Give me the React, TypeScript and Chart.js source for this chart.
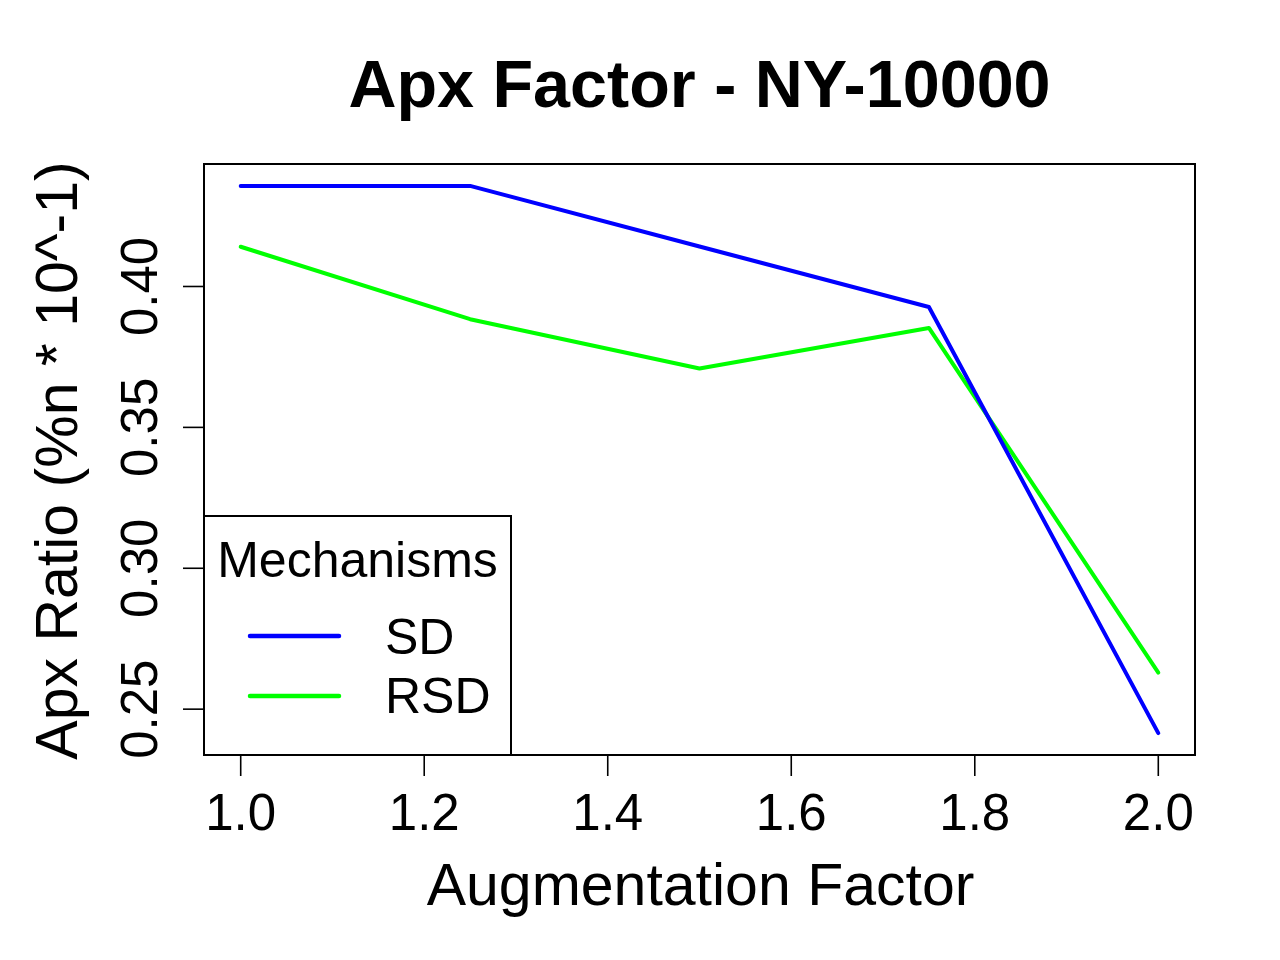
import React, { useEffect, useRef } from "react";
import { Chart, registerables } from "chart.js";

Chart.register(...registerables);

// ---- Data ----
const augmentation = [1.0, 1.25, 1.5, 1.75, 2.0];
const sdValues = [0.4357, 0.4357, 0.4142, 0.3927, 0.2415];
const rsdValues = [0.4141, 0.3884, 0.3709, 0.3853, 0.263];
const seriesNames = ["SD", "RSD"];
const seriesColors = ["#0000FF", "#00FF00"];

const xTicks = [1.0, 1.2, 1.4, 1.6, 1.8, 2.0];
const xTickLabels = ["1.0", "1.2", "1.4", "1.6", "1.8", "2.0"];
const yTicks = [0.25, 0.3, 0.35, 0.4];
const yTickLabels = ["0.25", "0.30", "0.35", "0.40"];

const titleText = "Apx Factor - NY-10000";
const xTitle = "Augmentation Factor";
const yTitle = "Apx Ratio (%n * 10^-1)";
const legendTitle = "Mechanisms";

// R-style 4% axis extension
function rRange(vals: number[]) {
  const lo = Math.min(...vals);
  const hi = Math.max(...vals);
  const d = (hi - lo) * 0.04;
  return { min: lo - d, max: hi + d };
}

const FONT = '"Liberation Sans", Arial, Helvetica, sans-serif';

const rPlotPlugin = {
  id: "rplot",
  beforeDraw(chart: any) {
    const { ctx, width, height } = chart;
    ctx.save();
    ctx.fillStyle = "#FFFFFF";
    ctx.fillRect(0, 0, width, height);
    ctx.restore();
  },
  afterDatasetsDraw(chart: any) {
    const { ctx, chartArea: a } = chart;
    const x = chart.scales.x;
    const y = chart.scales.y;
    ctx.save();
    ctx.fillStyle = "#000";
    ctx.strokeStyle = "#000";

    // plot box
    ctx.lineWidth = 2;
    ctx.strokeRect(a.left, a.top, a.right - a.left, a.bottom - a.top);

    // ticks
    ctx.lineWidth = 1.6;
    const tickLen = 21;
    xTicks.forEach((v) => {
      const px = x.getPixelForValue(v);
      ctx.beginPath();
      ctx.moveTo(px, a.bottom);
      ctx.lineTo(px, a.bottom + tickLen);
      ctx.stroke();
    });
    yTicks.forEach((v) => {
      const py = y.getPixelForValue(v);
      ctx.beginPath();
      ctx.moveTo(a.left - tickLen, py);
      ctx.lineTo(a.left, py);
      ctx.stroke();
    });

    // tick labels
    ctx.font = `51px ${FONT}`;
    ctx.textAlign = "center";
    ctx.textBaseline = "alphabetic";
    xTicks.forEach((v, i) => {
      ctx.fillText(xTickLabels[i], x.getPixelForValue(v), 830);
    });
    yTicks.forEach((v, i) => {
      ctx.save();
      ctx.translate(157, y.getPixelForValue(v));
      ctx.rotate(-Math.PI / 2);
      ctx.fillText(yTickLabels[i], 0, 0);
      ctx.restore();
    });

    // axis titles
    ctx.font = `59px ${FONT}`;
    ctx.fillText(xTitle, (a.left + a.right) / 2 + 1, 905);
    ctx.save();
    ctx.translate(77, (a.top + a.bottom) / 2 + 1);
    ctx.rotate(-Math.PI / 2);
    ctx.fillText(yTitle, 0, 0);
    ctx.restore();

    // main title
    ctx.font = `bold 66.5px ${FONT}`;
    ctx.fillText(titleText, (a.left + a.right) / 2, 107);

    // legend
    const lx0 = a.left;
    const lx1 = 511;
    const ly0 = 516;
    const ly1 = a.bottom;
    ctx.fillStyle = "#FFFFFF";
    ctx.fillRect(lx0, ly0, lx1 - lx0, ly1 - ly0);
    ctx.lineWidth = 2;
    ctx.strokeRect(lx0, ly0, lx1 - lx0, ly1 - ly0);
    ctx.fillStyle = "#000";
    ctx.font = `50px ${FONT}`;
    ctx.textAlign = "center";
    ctx.fillText(legendTitle, (lx0 + lx1) / 2, 577);
    const rows = [
      { lineY: 636, base: 654 },
      { lineY: 696, base: 713 },
    ];
    ctx.textAlign = "left";
    seriesNames.forEach((name, i) => {
      ctx.strokeStyle = seriesColors[i];
      ctx.lineWidth = 4.5;
      ctx.lineCap = "round";
      ctx.beginPath();
      ctx.moveTo(250, rows[i].lineY);
      ctx.lineTo(339, rows[i].lineY);
      ctx.stroke();
      ctx.fillStyle = "#000";
      ctx.fillText(name, 385, rows[i].base);
    });

    ctx.restore();
  },
};

export default function App() {
  const canvasRef = useRef<HTMLCanvasElement | null>(null);

  useEffect(() => {
    const canvas = canvasRef.current;
    if (!canvas) return;
    const xr = rRange(augmentation);
    const yr = rRange([...sdValues, ...rsdValues]);
    const chart = new Chart(canvas, {
      type: "line",
      data: {
        datasets: [
          {
            label: seriesNames[0],
            data: augmentation.map((v, i) => ({ x: v, y: sdValues[i] })),
            borderColor: seriesColors[0],
            backgroundColor: seriesColors[0],
            borderWidth: 4,
            pointRadius: 0,
            tension: 0,
            borderCapStyle: "round",
            borderJoinStyle: "round",
            fill: false,
          },
          {
            label: seriesNames[1],
            data: augmentation.map((v, i) => ({ x: v, y: rsdValues[i] })),
            borderColor: seriesColors[1],
            backgroundColor: seriesColors[1],
            borderWidth: 4,
            pointRadius: 0,
            tension: 0,
            borderCapStyle: "round",
            borderJoinStyle: "round",
            fill: false,
          },
        ],
      },
      options: {
        responsive: false,
        animation: false,
        devicePixelRatio: 1,
        layout: { padding: { left: 204, top: 164, right: 85, bottom: 205 } },
        plugins: {
          legend: { display: false },
          title: { display: false },
          tooltip: { enabled: false },
        },
        scales: {
          x: { type: "linear", display: false, min: xr.min, max: xr.max },
          y: { type: "linear", display: false, min: yr.min, max: yr.max },
        },
      },
      plugins: [rPlotPlugin],
    } as any);
    return () => chart.destroy();
  }, []);

  return (
    <div style={{ position: "absolute", left: 0, top: 0, width: 1280, height: 960, background: "#fff" }}>
      <canvas ref={canvasRef} width={1280} height={960} style={{ display: "block", width: 1280, height: 960 }} />
    </div>
  );
}
